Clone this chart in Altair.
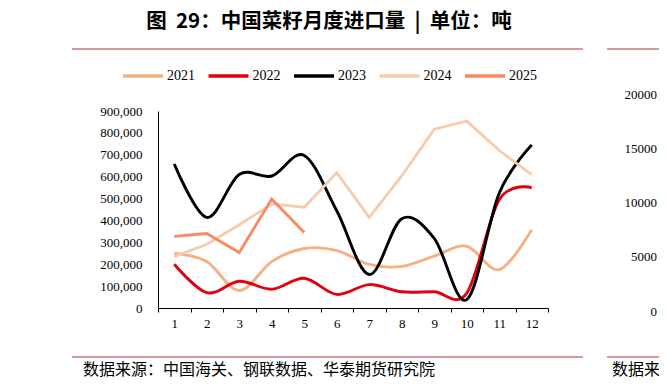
import altair as alt
import pandas as pd

SERIF = "Liberation Serif"
CJK = "Noto Sans CJK SC"

months = list(range(1, 13))
years = ["2021", "2022", "2023", "2024", "2025"]
colors = ["#F4B183", "#E3000F", "#000000", "#F8CBAD", "#F88A63"]

v2021 = [250000, 212000, 80000, 212000, 272000, 262000, 199000, 190000, 237000, 282000, 175000, 358000]
v2022 = [200000, 70000, 122000, 86000, 136000, 62000, 107000, 74000, 74000, 68000, 495000, 550000]
v2023 = [658000, 414000, 610000, 603000, 697000, 444000, 153000, 408000, 318000, 38000, 525000, 745000]
v2024 = [235000, 291000, 380000, 475000, 460000, 618000, 414000, 603000, 817000, 854000, 720000, 609000]
v2025 = [327000, 340000, 253000, 498000, 345000]

y_ticks = [0, 100000, 200000, 300000, 400000, 500000, 600000, 700000, 800000, 900000]

NB = "\u00a0"
title_text = "图" + NB * 2 + "29：中国菜籽月度进口量" + NB * 2 + "|" + NB * 2 + "单位：吨"
source_text = "数据来源：中国海关、钢联数据、华泰期货研究院"
right_ticks = ["20000", "15000", "10000", "5000", "0"]

smooth_years = ["2021", "2022", "2023"]

rows = []
for yr, vals in zip(years, [v2021, v2022, v2023, v2024, v2025]):
    for m, v in zip(months, vals):
        rows.append({"year": yr, "month": m, "value": v})
df = pd.DataFrame(rows)
df_smooth = df[df["year"].isin(smooth_years)]
df_straight = df[~df["year"].isin(smooth_years)]

x_enc = alt.X(
    "month:O",
    scale=alt.Scale(type="band", paddingInner=0, paddingOuter=0),
    bandPosition=0.5,
    axis=alt.Axis(title=None, labelAngle=0, tickBand="extent", tickSize=4,
                  tickColor="black", domainColor="black", labelFont=SERIF,
                  labelFontSize=13, labelColor="black", labelPadding=5, grid=False),
)
y_enc = alt.Y(
    "value:Q",
    scale=alt.Scale(domain=[0, 900000], nice=False),
    axis=alt.Axis(title=None, values=y_ticks, format=",d", ticks=False, labelPadding=16,
                  domainColor="black", labelFont=SERIF, labelFontSize=13,
                  labelColor="black", grid=False),
)
color_enc = alt.Color(
    "year:N",
    scale=alt.Scale(domain=years, range=colors),
    legend=alt.Legend(title=None, orient="none", legendX=-37, legendY=-57,
                      direction="horizontal", symbolType="stroke", symbolSize=1600,
                      symbolStrokeWidth=3.5, labelFont=SERIF, labelFontSize=14,
                      labelColor="black", columnPadding=6.5, labelOffset=2),
)

smooth = alt.Chart(df_smooth).mark_line(interpolate="cardinal", strokeWidth=2.9).encode(
    x=x_enc, y=y_enc, color=color_enc)
straight = alt.Chart(df_straight).mark_line(strokeWidth=2.9).encode(
    x=x_enc, y=y_enc, color=color_enc)

RULE_COLOR = "#C87878"
one = pd.DataFrame({"k": [0]})

def rule(x1, x2, y):
    return alt.Chart(one).mark_rule(color=RULE_COLOR, strokeWidth=1.5).encode(
        x=alt.value(x1), x2=alt.value(x2), y=alt.value(y))

def label(text, x, y, size, font, align="left", weight="normal"):
    return alt.Chart(pd.DataFrame({"t": [text]})).mark_text(
        font=font, fontSize=size, fontWeight=weight, align=align, baseline="middle",
        color="black").encode(x=alt.value(x), y=alt.value(y), text="t:N")

decor = [
    label(title_text, 171, -89.5, 20.5, CJK, align="center", weight="bold"),
    rule(-86, 425, -62),
    rule(449, 520, -62),
    label("图", 502, -89.5, 20.5, CJK, weight="bold"),
    rule(-86, 425, 246),
    rule(449, 520, 246),
    label(source_text, -75, 259, 16, CJK),
    label(source_text, 454, 259, 16, CJK),
]
for t, yy in zip(right_ticks, [-16, 38, 92, 146, 200.7]):
    decor.append(label(t, 499, yy, 13, SERIF, align="right"))

chart = alt.layer(smooth, straight, *decor).properties(
    width=390, height=197,
    autosize=alt.AutoSizeParams(type="none"),
    padding={"left": 150, "top": 103, "right": 111, "bottom": 74},
).configure_view(stroke=None)

chart.save("out.html", embed_options={"renderer": "svg", "actions": False})
